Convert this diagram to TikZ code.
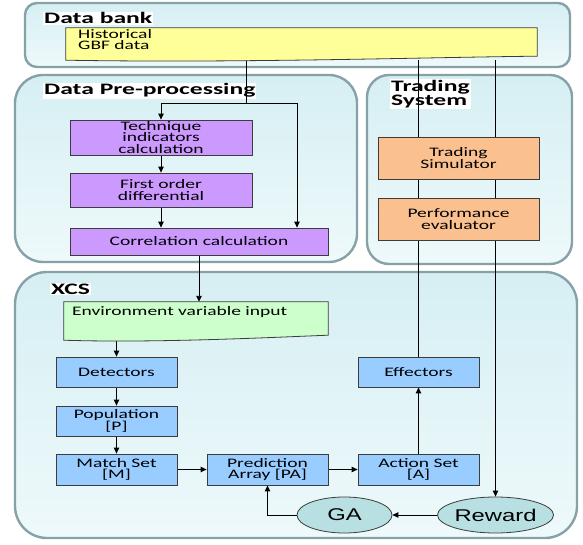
\documentclass[tikz,border=0pt]{standalone}
\usepackage{fontspec}
\setmainfont{Carlito}[FakeStretch=1.5]
\newfontfamily\ttlfont{Carlito}[FakeStretch=1.6]
\newfontfamily\ellfont{Liberation Sans}[FakeStretch=1.4]
\usetikzlibrary{shapes.geometric,arrows.meta,calc}
\pgfdeclarelayer{bg}
\pgfdeclarelayer{ttl}
\pgfdeclarelayer{lines}
\pgfsetlayers{bg,ttl,lines,main}
\definecolor{grpline}{HTML}{86A2A7}
\definecolor{grptop}{HTML}{D6EFF3}
\definecolor{grpbot}{HTML}{EEF9FB}
\definecolor{boxline}{HTML}{3C3C3C}
\definecolor{purp}{HTML}{CC99FF}
\definecolor{blu}{HTML}{99CCFF}
\definecolor{orng}{HTML}{FAC090}
\definecolor{yel}{HTML}{FFFF99}
\definecolor{grn}{HTML}{CCFFCC}
\definecolor{ellc}{HTML}{B8DFE1}
\begin{document}
\begin{tikzpicture}[x=1pt,y=-1pt,
  grp/.style={draw=grpline, line width=2.4pt, top color=grptop, bottom color=grpbot, inner sep=0pt},
  ttl/.style={font=\ttlfont\bfseries\fontsize{16}{14.5}\selectfont, fill=white, inner sep=1pt, align=left},
  box/.style={draw=boxline, line width=0.8pt, inner sep=0pt, align=center, font=\fontsize{13}{11.5}\selectfont},
  pbox/.style={box, fill=purp},
  bbox/.style={box, fill=blu, minimum width=121pt, minimum height=30pt},
  obox/.style={box, fill=orng, minimum width=161pt, minimum height=42pt},
  docshape/.style={fill=#1, draw=boxline, line width=0.8pt},
  plain/.style={inner sep=0pt, align=left, font=\fontsize{13}{11.5}\selectfont},
  ell/.style={ellipse, draw=boxline, line width=0.8pt, fill=ellc, inner sep=0pt, minimum width=95pt, minimum height=36pt, font=\ellfont\fontsize{17}{18}\selectfont},
  ln/.style={line width=0.9pt, black},
  arr/.style={ln, -{Triangle[length=6pt,width=5.5pt]}}
]
\useasboundingbox (0,0) rectangle (583,545);

% containers
\begin{pgfonlayer}{bg}
\node[grp, rounded corners=12pt, minimum width=545pt, minimum height=64pt] (bank) at (297.5,35) {};
\node[grp, rounded corners=28pt, minimum width=342pt, minimum height=187pt] (prep) at (186,168.5) {};
\node[grp, rounded corners=22pt, minimum width=205pt, minimum height=189pt] (trade) at (469.5,169.5) {};
\node[grp, rounded corners=32pt, minimum width=562pt, minimum height=266pt] (xcs) at (296,405) {};
\end{pgfonlayer}

% titles
\begin{pgfonlayer}{ttl}
\node[ttl, anchor=base west] (tbank) at (43,24) {Data bank};
\node[ttl, anchor=base west] (tprep) at (43,95) {Data Pre-processing};
\node[ttl, anchor=north west] (ttrade) at (390,79) {Trading\\System};
\node[ttl, anchor=base west] (txcs) at (50,294) {XCS};
\end{pgfonlayer}

% data document
\node[minimum width=471pt, minimum height=32pt, inner sep=0pt] (doc) at (301.5,44) {};
\path[docshape=yel] (doc.north west) -- (doc.north east) -- ($(doc.south east)+(0,-4)$)
  .. controls ($(doc.south)+(130,-3)$) and ($(doc.south)+(-60,3)$) .. (doc.south west) -- cycle;
\node[plain, anchor=north west] (doctext) at (78,29) {Historical\\GBF data};

% pre-processing
\node[pbox, minimum width=182pt, minimum height=35pt] (tech) at (161,137.5) {Technique\\indicators\\calculation};
\node[pbox, minimum width=182pt, minimum height=34pt] (first) at (161,190) {First order\\differential};
\node[pbox, minimum width=258pt, minimum height=27pt] (corr) at (199,241.5) {Correlation calculation};

% trading system
\node[obox] (tsim) at (458.5,158) {Trading\\Simulator};
\node[obox] (perf) at (458.5,219) {Performance\\evaluator};

% environment input
\node[minimum width=264pt, minimum height=38pt, inner sep=0pt] (env) at (196,321) {};
\path[docshape=grn] (env.north west) -- (env.north east) -- ($(env.south east)+(0,-5)$)
  .. controls ($(env.south)+(80,-3)$) and ($(env.south)+(-40,3)$) .. (env.south west) -- cycle;
\node[plain, anchor=north west] (envtext) at (72,306) {Environment variable input};

% XCS
\node[bbox] (det) at (116.5,372) {Detectors};
\node[bbox] (pop) at (116.5,421) {Population\\{[P]}};
\node[bbox, minimum height=31pt] (match) at (116.5,469.5) {Match Set\\{[M]}};
\node[bbox, minimum height=31pt] (pred) at (267.5,469.5) {Prediction\\Array [PA]};
\node[bbox, minimum height=31pt] (act) at (418.5,469.5) {Action Set\\{[A]}};
\node[bbox] (eff) at (418.5,372) {Effectors};
\node[ell] (ga) at (344.5,515) {GA};
\node[ell] (reward) at (495.5,515) {Reward};

% connectors
\begin{pgfonlayer}{lines}
\coordinate (split) at (246,103);
\coordinate (rbr) at (297,103);
\draw[ln] (split |- doc.south) -- (split);
\draw[arr] (split) -| (tech.north);
\draw[arr] (split) -- (rbr) -- (rbr |- corr.north);
\draw[arr] (tech) -- (first);
\draw[arr] (first.south) -- (first.south |- corr.north);
\draw[arr] (corr.south) -- (corr.south |- env.north);
\draw[arr] (det.north |- env.south) -- (det);
\draw[arr] (det) -- (pop);
\draw[arr] (pop) -- (match);
\draw[arr] (match) -- (pred);
\draw[arr] (pred) -- (act);
\draw[arr] (act) -- (eff);
\draw[ln] (eff.north) -- (eff.north |- doc.south);
\draw[arr] (reward.north |- doc.south) -- (reward.north);
\draw[arr] (reward) -- (ga);
\draw[arr] (ga.west) -| (pred.south);
\end{pgfonlayer}
\end{tikzpicture}
\end{document}
